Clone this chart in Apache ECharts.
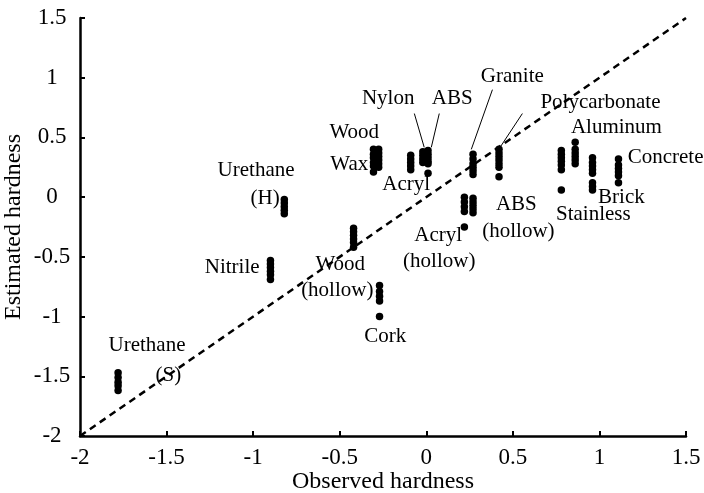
<!DOCTYPE html>
<html>
<head>
<meta charset="utf-8">
<script src="https://cdn.jsdelivr.net/npm/echarts@6/dist/echarts.min.js"></script>
<style>
  html, body { margin: 0; padding: 0; background: #fff; }
  #main { width: 704px; height: 493px; }
</style>
</head>
<body>
<div id="main"></div>
<script>
// observed hardness (x) and estimated hardness samples (y) per material column
var columnX = [-1.78, -0.9, -0.82, -0.42, -0.27, -0.305, -0.275, -0.09, -0.02, 0.01, 0.27, 0.42, 0.22, 0.27, 0.78, 0.86, 0.96, 1.11];
var columnY = [
  [-1.47, -1.51, -1.55, -1.58, -1.62],          // Urethane (S)
  [-0.53, -0.56, -0.59, -0.62, -0.65, -0.69],   // Nitrile
  [-0.02, -0.05, -0.08, -0.11, -0.14],          // Urethane (H)
  [-0.26, -0.29, -0.32, -0.35, -0.38, -0.42],   // Wood (hollow)
  [-0.74, -0.79, -0.83, -0.87, -1.0],           // Cork
  [0.40, 0.36, 0.33, 0.29, 0.26, 0.21],         // Wax
  [0.40, 0.37, 0.34, 0.31, 0.28, 0.25],         // Wood
  [0.35, 0.32, 0.29, 0.26, 0.23],               // Acryl
  [0.38, 0.35, 0.32, 0.29],                     // Nylon
  [0.39, 0.36, 0.33, 0.30, 0.28, 0.20],         // ABS
  [0.36, 0.32, 0.28, 0.25, 0.22, 0.19],         // Granite
  [0.40, 0.37, 0.34, 0.31, 0.28, 0.25, 0.17],   // Polycarbonate
  [0.00, -0.04, -0.08, -0.12, -0.25],           // Acryl (hollow)
  [-0.01, -0.04, -0.07, -0.10, -0.13],          // ABS (hollow)
  [0.39, 0.36, 0.33, 0.30, 0.27, 0.23, 0.06],   // Stainless
  [0.46, 0.40, 0.37, 0.34, 0.31, 0.28],         // Aluminum
  [0.33, 0.29, 0.26, 0.23, 0.20, 0.12, 0.09, 0.06], // Brick
  [0.32, 0.27, 0.24, 0.21, 0.18, 0.12]          // Concrete
];

// text labels placed in data coordinates
var labelText = ['Urethane', '(S)', 'Nitrile', 'Urethane', '(H)', 'Wood', '(hollow)', 'Cork',
  'Wood', 'Wax', 'Acryl', 'Nylon', 'ABS', 'Granite', 'Polycarbonate', 'Aluminum', 'Concrete',
  'Brick', 'Stainless', 'ABS', '(hollow)', 'Acryl', '(hollow)'];
var labelX = [-1.613, -1.49, -1.121, -0.983, -0.931, -0.497, -0.514, -0.237,
  -0.416, -0.445, -0.116, -0.22, 0.15, 0.497, 1.006, 1.098, 1.382,
  1.127, 0.965, 0.52, 0.532, 0.069, 0.075];
var labelY = [-1.242, -1.49, -0.59, 0.225, -0.01, -0.56, -0.78, -1.167,
  0.54, 0.275, 0.108, 0.825, 0.825, 1.008, 0.79, 0.583, 0.333,
  0.0, -0.142, -0.058, -0.29, -0.317, -0.54];

// leader lines: [x1, y1, x2, y2]
var leaders = [
  [-0.069, 0.70, -0.012, 0.417],  // Nylon
  [0.075, 0.70, 0.029, 0.417],    // ABS
  [0.382, 0.90, 0.26, 0.40],      // Granite
  [0.555, 0.70, 0.422, 0.408]     // Polycarbonate
];

var diagonal = [[-2, -2], [1.5, 1.5]];

var points = [];
columnX.forEach(function (x, i) {
  columnY[i].forEach(function (y) { points.push([x, y]); });
});
var labels = labelText.map(function (t, i) { return { name: t, value: [labelX[i], labelY[i]] }; });
var leaderData = leaders.map(function (l) { return { coords: [[l[0], l[1]], [l[2], l[3]]] }; });

var font = '"Liberation Serif", "Times New Roman", serif';

var myChart = echarts.init(document.getElementById('main'));
var option = {
  animation: false,
  grid: { left: 80, right: 18, top: 18, bottom: 57, containLabel: false, outerBoundsMode: 'none' },
  xAxis: {
    type: 'value', min: -2, max: 1.5, interval: 0.5,
    name: 'Observed hardness', nameLocation: 'middle', nameGap: 34, nameMoveOverlap: false,
    nameTextStyle: { fontFamily: font, fontSize: 24, color: '#000' },
    splitLine: { show: false },
    axisLine: { onZero: false, lineStyle: { color: '#000', width: 2.5 } },
    axisTick: { inside: true, length: 5, lineStyle: { color: '#000', width: 2 } },
    axisLabel: { fontFamily: font, fontSize: 23, color: '#000', margin: 10 }
  },
  yAxis: {
    type: 'value', min: -2, max: 1.5, interval: 0.5,
    name: 'Estimated hardness', nameLocation: 'middle', nameGap: 54, nameMoveOverlap: false,
    nameTextStyle: { fontFamily: font, fontSize: 24, color: '#000' },
    splitLine: { show: false },
    axisLine: { onZero: false, lineStyle: { color: '#000', width: 2.5 } },
    axisTick: { inside: true, length: 5, lineStyle: { color: '#000', width: 2 } },
    axisLabel: { fontFamily: font, fontSize: 23, color: '#000', margin: 28, align: 'center' }
  },
  series: [
    {
      type: 'line', data: diagonal, symbol: 'none', silent: true,
      lineStyle: { color: '#000', width: 2.5, type: [7, 5], opacity: 1 }
    },
    {
      type: 'scatter', data: points, symbolSize: 7.5,
      itemStyle: { color: '#000', opacity: 1 }
    },
    {
      type: 'lines', coordinateSystem: 'cartesian2d', data: leaderData, silent: true,
      lineStyle: { color: '#000', width: 1, opacity: 1 }
    },
    {
      type: 'scatter', data: labels, symbolSize: 0, silent: true,
      itemStyle: { opacity: 1 },
      label: {
        show: true, position: 'inside', formatter: '{b}',
        fontFamily: font, fontSize: 21, color: '#000'
      }
    }
  ]
};
option && myChart.setOption(option);
</script>
</body>
</html>
